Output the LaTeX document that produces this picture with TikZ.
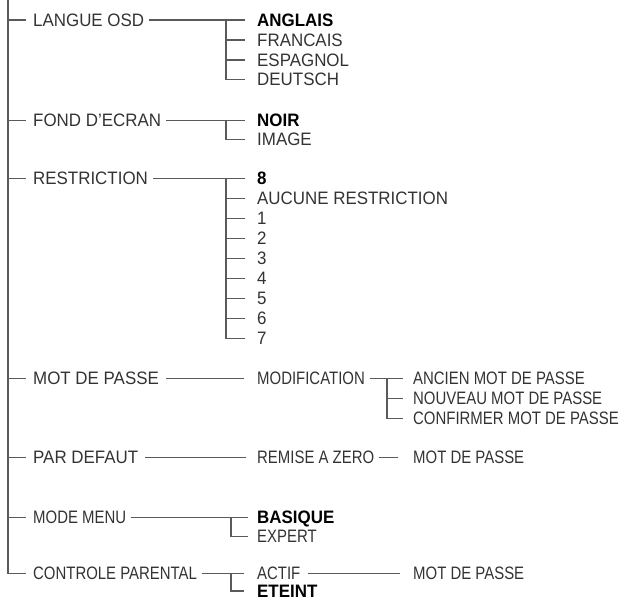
\documentclass[tikz,border=0pt]{standalone}
\usepackage{fontspec}
\setmainfont[FakeStretch=0.94]{Liberation Sans}
\newfontfamily\condfont[FakeStretch=0.83]{Liberation Sans}
\usepackage{tikz}

\definecolor{menutext}{HTML}{333333}
\definecolor{menuline}{HTML}{5A5A5A}

\tikzset{
  item/.style={anchor=west,inner sep=0pt,text height=12.9pt,text depth=0pt,
    text=menutext,font=\fontsize{18pt}{18pt}\selectfont},
  conditem/.style={item,font=\fontsize{18pt}{18pt}\selectfont\condfont},
  selitem/.style={item,text=black,font=\fontsize{18pt}{18pt}\selectfont\bfseries},
  wire/.style={draw=menuline,line width=1.1pt}
}

\begin{document}
\begin{tikzpicture}[x={(1pt,0pt)},y={(0pt,-1pt)}]
\useasboundingbox (0,0) rectangle (629,602);
\clip (0,0) rectangle (629,602);

% first level
\coordinate (top) at (8,0);
\node[item] (langue) at (33,20) {LANGUE OSD};
\node[item] (fond) at (33,120.5) {FOND D'ECRAN};
\node[item] (restr) at (33,178.5) {RESTRICTION};
\node[item] (motdp) at (33,378.5) {MOT DE PASSE};
\node[item] (defaut) at (33,457.5) {PAR DEFAUT};
\node[conditem] (mode) at (33,517.5) {MODE MENU};
\node[conditem] (parent) at (33,573.5) {CONTROLE PARENTAL};

% langue
\node[selitem] (anglais) at (257,20) {ANGLAIS};
\node[item] (francais) at (257,40) {FRANCAIS};
\node[item] (espagnol) at (257,60) {ESPAGNOL};
\node[item] (deutsch) at (257,79.5) {DEUTSCH};

% fond
\node[selitem] (noir) at (257,120.5) {NOIR};
\node[item] (image) at (257,139.5) {IMAGE};

% restriction
\node[selitem] (r8) at (257,178.5) {8};
\node[item] (aucune) at (257,198.5) {AUCUNE RESTRICTION};
\node[item] (r1) at (257,218.5) {1};
\node[item] (r2) at (257,238.5) {2};
\node[item] (r3) at (257,258.5) {3};
\node[item] (r4) at (257,278.5) {4};
\node[item] (r5) at (257,298.5) {5};
\node[item] (r6) at (257,318.5) {6};
\node[item] (r7) at (257,338.5) {7};

% mot de passe
\node[conditem] (modif) at (257,378.5) {MODIFICATION};
\node[conditem] (ancien) at (413,378.5) {ANCIEN MOT DE PASSE};
\node[conditem] (nouveau) at (413,398.5) {NOUVEAU MOT DE PASSE};
\node[conditem] (confirm) at (413,418.5) {CONFIRMER MOT DE PASSE};

% par defaut
\node[conditem] (remise) at (257,457.5) {REMISE A ZERO};
\node[conditem] (remisemdp) at (413,457.5) {MOT DE PASSE};

% mode menu
\node[selitem] (basique) at (257,517.5) {BASIQUE};
\node[conditem] (expert) at (257,536.5) {EXPERT};

% controle parental
\node[conditem] (actif) at (257,573.5) {ACTIF};
\node[selitem] (eteint) at (257,591) {ETEINT};
\node[conditem] (actifmdp) at (413,573.5) {MOT DE PASSE};

% junctions
\coordinate (jA) at (226,0);
\coordinate (jB) at (231,0);
\coordinate (jC) at (387,0);

% main trunk
\draw[wire] (top) |- ([xshift=-7pt]parent.west);
\draw[wire] (top |- langue.west) -- ([xshift=-7pt]langue.west);
\draw[wire] (top |- fond.west) -- ([xshift=-7pt]fond.west);
\draw[wire] (top |- restr.west) -- ([xshift=-7pt]restr.west);
\draw[wire] (top |- motdp.west) -- ([xshift=-7pt]motdp.west);
\draw[wire] (top |- defaut.west) -- ([xshift=-7pt]defaut.west);
\draw[wire] (top |- mode.west) -- ([xshift=-7pt]mode.west);

% langue branch
\draw[wire] ([xshift=5pt]langue.east) -- ([xshift=-12pt]anglais.west);
\draw[wire] (jA |- anglais.west) |- ([xshift=-12pt]deutsch.west);
\draw[wire] (jA |- francais.west) -- ([xshift=-12pt]francais.west);
\draw[wire] (jA |- espagnol.west) -- ([xshift=-12pt]espagnol.west);

% fond branch
\draw[wire] ([xshift=5pt]fond.east) -- ([xshift=-12pt]noir.west);
\draw[wire] (jA |- noir.west) |- ([xshift=-12pt]image.west);

% restriction branch
\draw[wire] ([xshift=5pt]restr.east) -- ([xshift=-12pt]r8.west);
\draw[wire] (jA |- r8.west) |- ([xshift=-12pt]r7.west);
\draw[wire] (jA |- aucune.west) -- ([xshift=-12pt]aucune.west);
\draw[wire] (jA |- r1.west) -- ([xshift=-12pt]r1.west);
\draw[wire] (jA |- r2.west) -- ([xshift=-12pt]r2.west);
\draw[wire] (jA |- r3.west) -- ([xshift=-12pt]r3.west);
\draw[wire] (jA |- r4.west) -- ([xshift=-12pt]r4.west);
\draw[wire] (jA |- r5.west) -- ([xshift=-12pt]r5.west);
\draw[wire] (jA |- r6.west) -- ([xshift=-12pt]r6.west);

% mot de passe branch
\draw[wire] ([xshift=7pt]motdp.east) -- ([xshift=-13pt]modif.west);
\draw[wire] ([xshift=5pt]modif.east) -- ([xshift=-10pt]ancien.west);
\draw[wire] (jC |- ancien.west) |- ([xshift=-10pt]confirm.west);
\draw[wire] (jC |- nouveau.west) -- ([xshift=-10pt]nouveau.west);

% par defaut branch
\draw[wire] ([xshift=7pt]defaut.east) -- ([xshift=-11pt]remise.west);
\draw[wire] ([xshift=5pt]remise.east) -- ([xshift=-15pt]remisemdp.west);

% mode menu branch
\draw[wire] ([xshift=5pt]mode.east) -- ([xshift=-9pt]basique.west);
\draw[wire] (jB |- basique.west) |- ([xshift=-9pt]expert.west);

% controle parental branch
\draw[wire] ([xshift=5pt]parent.east) -- ([xshift=-13pt]actif.west);
\draw[wire] (jB |- actif.west) |- ([xshift=-13pt]eteint.west);
\draw[wire] ([xshift=7pt]actif.east) -- ([xshift=-13pt]actifmdp.west);
\end{tikzpicture}
\end{document}
